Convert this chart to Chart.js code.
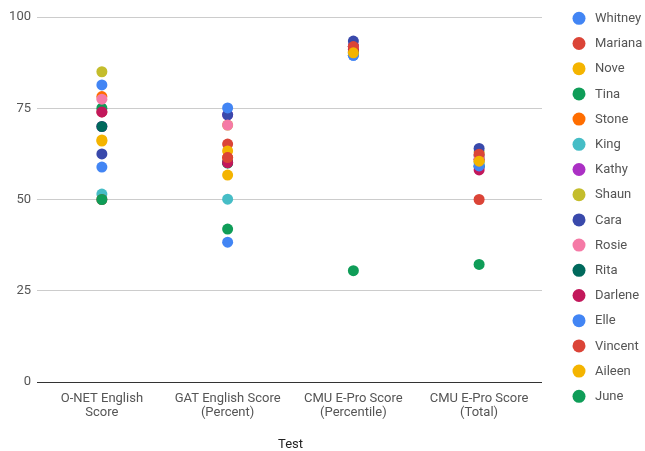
<!DOCTYPE html>
<html>
<head>
<meta charset="utf-8">
<script src="https://cdn.jsdelivr.net/npm/chart.js@4/dist/chart.umd.min.js"></script>
<style>
  html, body { margin: 0; padding: 0; background: #fff; }
  #wrap { width: 645px; height: 451px; position: relative; }
</style>
</head>
<body>
<div id="wrap"><canvas id="c" width="645" height="451"></canvas></div>
<script>
// Test categories (x axis), each split into display lines
const tests = [
  ['O-NET English', 'Score'],
  ['GAT English Score', '(Percent)'],
  ['CMU E-Pro Score', '(Percentile)'],
  ['CMU E-Pro Score', '(Total)']
];

// Students, in legend order
const students = ['Whitney', 'Mariana', 'Nove', 'Tina', 'Stone', 'King', 'Kathy', 'Shaun',
                  'Cara', 'Rosie', 'Rita', 'Darlene', 'Elle', 'Vincent', 'Aileen', 'June'];

const studentColors = ['#4285F4', '#DB4437', '#F4B400', '#0F9D58', '#FF6D00', '#46BDC6', '#AB30C4', '#C4BD2C',
                       '#3949AB', '#F57AA6', '#00695C', '#C2185B', '#4285F4', '#DB4437', '#F4B400', '#0F9D58'];

// Scores per student: [O-NET, GAT %, CMU percentile, CMU total]
const whitney = [58.9, 38.3, 89.5, 59.2];
const mariana = [74, 65.2, 92, 50];
const nove    = [66, 63.3, 90.2, 60.5];
const tina    = [75, 60, 91.9, 62];
const stone   = [78.2, 61.5, 90.2, 61];
const king    = [51.5, 50.1, 90, 60];
const kathy   = [70, 73.2, 92, 61];
const shaun   = [85, 70.4, 91, 63];
const cara    = [62.5, 73.2, 93.4, 64];
const rosie   = [77.5, 70.4, 91.5, 62];
const rita    = [70, 60.1, 90.5, 59];
const darlene = [74, 60.1, 91, 58.1];
const elle    = [81.4, 75.1, 89.5, 59.2];
const vincent = [50, 61.5, 91.9, 62.4];
const aileen  = [66.3, 56.7, 90.2, 60.5];
const june    = [50, 41.9, 30.5, 32.2];

const scoreSets = [whitney, mariana, nove, tina, stone, king, kathy, shaun,
                   cara, rosie, rita, darlene, elle, vincent, aileen, june];

// y axis ticks
const yTicks = [0, 25, 50, 75, 100];

const FONT = 'Roboto, "Noto Sans", Arial, sans-serif';

const datasets = students.map((name, i) => ({
  label: name,
  data: scoreSets[i],
  showLine: false,
  backgroundColor: studentColors[i],
  borderColor: studentColors[i],
  borderWidth: 0,
  pointRadius: 5.5,
  pointHoverRadius: 5.5,
  // later students are painted over earlier ones
  order: -i
}));

// Legend on the right: a dot and a name per student
const sideLegend = {
  id: 'sideLegend',
  afterDraw(chart) {
    const ctx = chart.ctx;
    ctx.save();
    ctx.font = '13px ' + FONT;
    ctx.textBaseline = 'middle';
    ctx.textAlign = 'left';
    chart.data.datasets.forEach((ds, i) => {
      const y = 18.3 + i * 25.2;
      ctx.beginPath();
      ctx.fillStyle = ds.backgroundColor;
      ctx.arc(579, y, 6.5, 0, Math.PI * 2);
      ctx.fill();
      ctx.fillStyle = '#555';
      ctx.fillText(ds.label, 595, y + 0.5);
    });
    ctx.restore();
  }
};

new Chart(document.getElementById('c'), {
  type: 'line',
  data: { labels: tests, datasets },
  options: {
    responsive: false,
    animation: false,
    layout: { padding: { top: 17, right: 103, left: 0, bottom: 0 } },
    plugins: {
      legend: { display: false },
      tooltip: { enabled: false }
    },
    scales: {
      x: {
        type: 'category',
        offset: true,
        grid: { display: false },
        border: { display: false },
        ticks: {
          padding: 2,
          color: '#555',
          font: { family: FONT, size: 13, lineHeight: 1.05 },
          maxRotation: 0,
          autoSkip: false
        },
        title: {
          display: true,
          text: 'Test',
          color: '#222',
          font: { family: FONT, size: 13 },
          padding: { top: 0, bottom: -2 }
        },
        afterFit(scale) { scale.height = 69; }
      },
      y: {
        min: 0,
        max: 100,
        afterBuildTicks(scale) { scale.ticks = yTicks.map(v => ({ value: v })); },
        border: { display: false },
        grid: {
          color: ctx => (ctx.tick && ctx.tick.value === 0 ? '#333' : '#ccc'),
          lineWidth: 1,
          tickLength: 2
        },
        ticks: {
          padding: 6,
          color: '#555',
          font: { family: FONT, size: 13 }
        },
        afterFit(scale) { scale.width = 39; }
      }
    }
  },
  plugins: [sideLegend]
});
</script>
</body>
</html>
